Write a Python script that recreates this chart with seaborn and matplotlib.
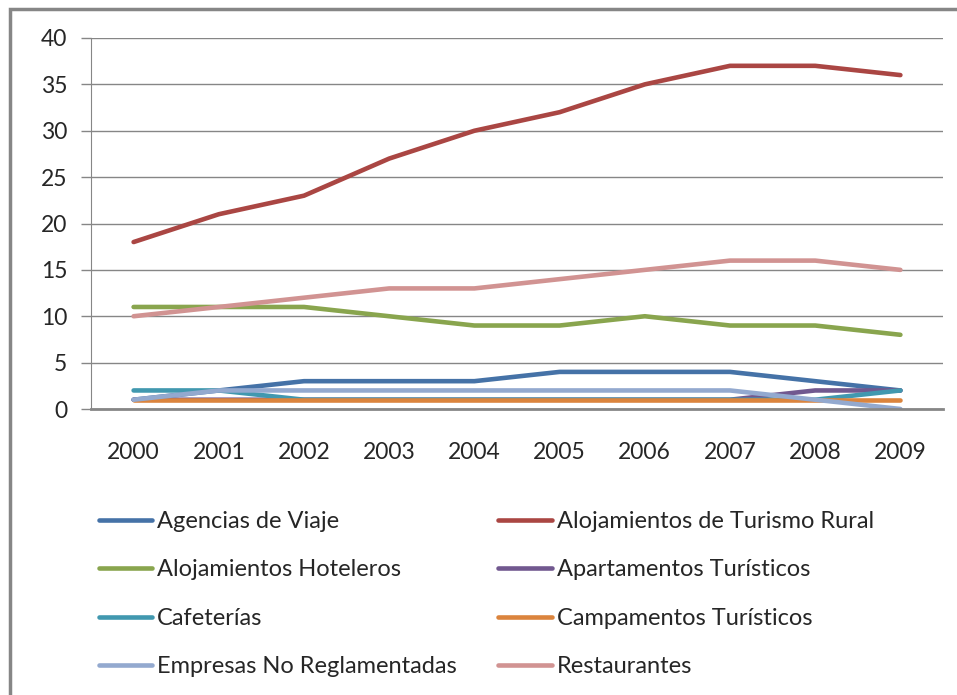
import matplotlib
matplotlib.use("Agg")
import matplotlib.pyplot as plt
from matplotlib.patches import Rectangle
from matplotlib.ticker import MultipleLocator
import pandas as pd
import seaborn as sns

# Data
years = [2000, 2001, 2002, 2003, 2004, 2005, 2006, 2007, 2008, 2009]
agencias = [1, 2, 3, 3, 3, 4, 4, 4, 3, 2]
rural = [18, 21, 23, 27, 30, 32, 35, 37, 37, 36]
hoteleros = [11, 11, 11, 10, 9, 9, 10, 9, 9, 8]
apartamentos = [1, 1, 1, 1, 1, 1, 1, 1, 2, 2]
cafeterias = [2, 2, 1, 1, 1, 1, 1, 1, 1, 2]
campamentos = [1, 1, 1, 1, 1, 1, 1, 1, 1, 1]
empresas = [1, 2, 2, 2, 2, 2, 2, 2, 1, 0]
restaurantes = [10, 11, 12, 13, 13, 14, 15, 16, 16, 15]

series_names = ["Agencias de Viaje", "Alojamientos de Turismo Rural",
                "Alojamientos Hoteleros", "Apartamentos Turísticos",
                "Cafeterías", "Campamentos Turísticos",
                "Empresas No Reglamentadas", "Restaurantes"]
series_values = [agencias, rural, hoteleros, apartamentos,
                 cafeterias, campamentos, empresas, restaurantes]
colors = ["#4572A7", "#AA4643", "#89A54E", "#71588F",
          "#4198AF", "#DB843D", "#93A9CF", "#D19392"]

rows = []
for name, vals in zip(series_names, series_values):
    for i, (yr, v) in enumerate(zip(years, vals)):
        rows.append({"pos": i, "year": yr, "serie": name, "valor": v})
df = pd.DataFrame(rows)

sns.set_style("white")
plt.rcParams["font.family"] = ["Lato", "DejaVu Sans"]

fig = plt.figure(figsize=(9.57, 6.95), dpi=100)
ax = fig.add_axes([91 / 957, 1 - 409 / 695, (943 - 91) / 957, (409 - 38) / 695])

sns.lineplot(data=df, x="pos", y="valor", hue="serie", hue_order=series_names,
             palette=colors, linewidth=3.3, ax=ax, legend=True,
             solid_capstyle="round")

grey = "#868686"
ax.set_xlim(-0.5, 9.5)
ax.set_ylim(0, 40)
ax.yaxis.set_major_locator(MultipleLocator(5))
ax.grid(axis="y", color=grey, linewidth=1)
ax.set_axisbelow(True)
for s in ["top", "right"]:
    ax.spines[s].set_visible(False)
ax.spines["left"].set_color(grey)
ax.spines["bottom"].set_color(grey)
ax.spines["bottom"].set_linewidth(2)

ax.set_xticks(range(len(years)))
ax.set_xticklabels([str(y) for y in years])
ax.set_xticks([i - 0.5 for i in range(len(years) + 1)], minor=True)
ax.tick_params(axis="x", which="major", length=0, pad=24, labelsize=16.5)
ax.tick_params(axis="x", which="minor", length=7, color=grey, width=1.2)
ax.tick_params(axis="y", length=7, color=grey, width=1, pad=10, labelsize=16.5,
               left=True)
ax.set_xlabel("")
ax.set_ylabel("")

# legend reordered so it reads row by row
handles, labels = ax.get_legend_handles_labels()
ax.get_legend().remove()
order = [0, 2, 4, 6, 1, 3, 5, 7]
fig.legend([handles[i] for i in order], [labels[i] for i in order],
           loc="upper left", bbox_to_anchor=(99 / 957, 1 - 511 / 695),
           ncol=2, frameon=False, fontsize=17, handlelength=2.25,
           handletextpad=0.22, labelspacing=1.16, columnspacing=1.75,
           borderaxespad=0, borderpad=0)

fig.patches.append(Rectangle((10 / 957, -0.5), 2, 1 - 9 / 695 + 0.5,
                             transform=fig.transFigure, fill=False,
                             edgecolor=grey, linewidth=2.5))

fig.savefig("out.png", dpi=100, facecolor="white")
